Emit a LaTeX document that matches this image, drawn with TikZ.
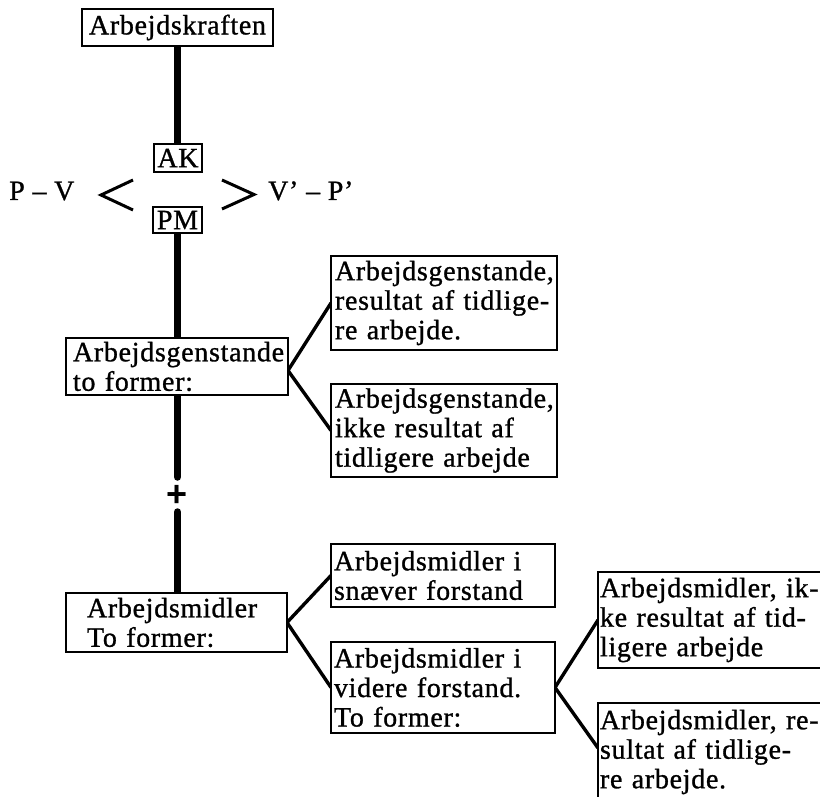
\documentclass[tikz,border=0pt]{standalone}
\usepackage{fontspec}
\setmainfont{Liberation Serif}[LetterSpace=2.5, FakeBold=1]
\newfontfamily\plusfont{Liberation Sans}
\usetikzlibrary{backgrounds}
\begin{document}
\begin{tikzpicture}[x=1pt,y=-1pt,
  txt/.style={font=\fontsize{28}{29.5}\selectfont},
  bx/.style={draw, line width=2.6pt, fill=white, outer sep=0pt, inner ysep=0pt,
    anchor=north west, txt, align=left,
    execute at begin node={\hyphenpenalty=10000\exhyphenpenalty=10000}},
  sbx/.style={bx, align=center, inner xsep=0pt},
  trunk/.style={line width=7.5pt},
  branch/.style={line width=3.4pt},
  chev/.style={line width=3pt, line join=miter},
]
\useasboundingbox (0,0) rectangle (820,797);

% boxes
\node[sbx, minimum width=191pt, minimum height=37pt] (kraft) at (82,9) {Arbejdskraften};
\node[sbx, minimum width=48pt, minimum height=28pt] (ak) at (154,144) {AK};
\node[sbx, minimum width=49pt, minimum height=26pt] (pm) at (153,207) {PM};

\node[bx, minimum width=222pt, minimum height=57pt, inner xsep=7pt, text width=208pt] (ag) at (66,338)
  {Arbejdsgenstande\\to~former:};
\node[bx, minimum width=226pt, minimum height=94pt, inner xsep=4pt, text width=218pt] (agu) at (331,256)
  {Arbejdsgenstande,\\resultat~af~tidlige-\\re~arbejde.};
\node[bx, minimum width=226pt, minimum height=93pt, inner xsep=4pt, text width=218pt] (agl) at (331,384)
  {Arbejdsgenstande,\\ikke~resultat~af\\tidligere~arbejde};

\node[bx, minimum width=221pt, minimum height=59pt, inner xsep=21pt, text width=179pt] (am) at (66,593)
  {Arbejdsmidler\\To~former:};
\node[bx, minimum width=224pt, minimum height=63pt, inner xsep=3pt, text width=218pt] (amu) at (331,544)
  {Arbejdsmidler~i\\snæver~forstand};
\node[bx, minimum width=224pt, minimum height=91pt, inner xsep=3pt, text width=218pt] (aml) at (331,642)
  {Arbejdsmidler~i\\videre~forstand.\\To~former:};

\node[bx, minimum width=224pt, minimum height=96pt, inner xsep=2pt, text width=220pt] (fru) at (598,572)
  {Arbejdsmidler,~ik-\\ke~resultat~af~tid-\\ligere~arbejde};
\node[bx, minimum width=224pt, minimum height=98pt, inner xsep=2pt, text width=220pt] (frl) at (598,703)
  {Arbejdsmidler,~re-\\sultat~af~tidlige-\\re~arbejde.};

% side texts
\node[txt, anchor=base west, inner sep=0pt] (pv) at (9,200) {P – V};
\node[txt, anchor=base west, inner sep=0pt] (vp) at (268,200) {V’ – P’};

% plus sign
\node[font=\plusfont\bfseries\fontsize{36}{36}\selectfont, inner sep=0pt] (plus) at (177,496) {+};

\coordinate (e1) at (177.5,477);
\coordinate (e2) at (177.5,512);

\begin{scope}[on background layer]
  \fill[white] (0,0) rectangle (820,797);
  \draw[trunk] (kraft.south) -- (kraft.south |- ak.north);
  \draw[trunk] (pm.south) -- (pm.south |- ag.north);
  \draw[trunk, line cap=round] (e1 |- ag.south) -- (e1);
  \draw[trunk, line cap=round] (e2) -- (e2 |- am.north);
  \draw[branch] (agu.west) -- ([yshift=-4pt]ag.east) -- (agl.west);
  \draw[branch] (amu.west) -- (am.east) -- (aml.west);
  \draw[branch] (fru.west) -- (aml.east) -- ([yshift=4pt]frl.west);
\end{scope}

% chevrons
\draw[chev] (133,180) -- (101,195) -- (133,210);
\draw[chev] (222,180) -- (254,194.5) -- (222,209);
\end{tikzpicture}
\end{document}
